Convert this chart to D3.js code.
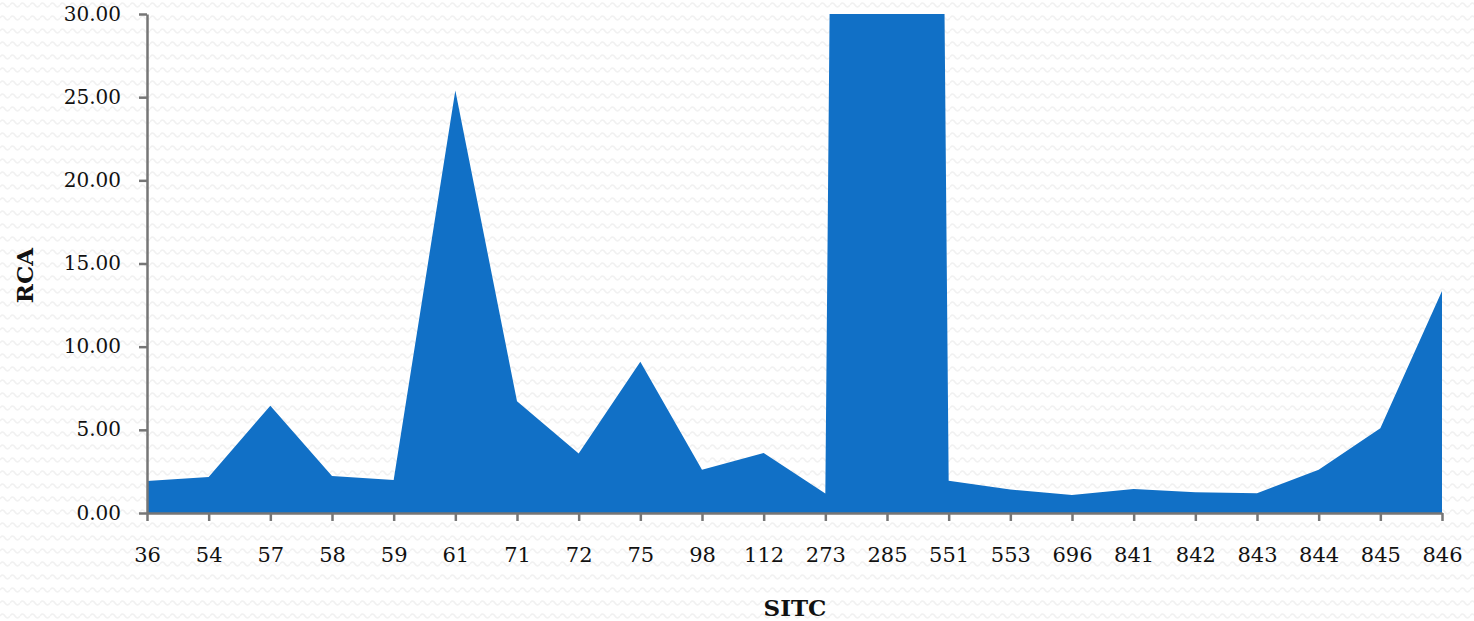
<!DOCTYPE html>
<html>
<head>
<meta charset="utf-8">
<script src="https://cdn.jsdelivr.net/npm/d3@7"></script>
<style>
  html, body { margin: 0; padding: 0; background: #fff; }
  svg { display: block; }
  .tick text { font-family: "DejaVu Serif", "Liberation Serif", serif; fill: #111; }
</style>
</head>
<body>
<svg id="chart" width="1474" height="621"></svg>
<script>
// SITC product codes along the x axis
const categories = ["36","54","57","58","59","61","71","72","75","98","112","273","285","551","553","696","841","842","843","844","845","846"];
// Revealed comparative advantage per code (285 runs far above the axis top)
const rcaValues = [1.93, 2.17, 6.45, 2.23, 1.99, 25.4, 6.72, 3.58, 9.1, 2.6, 3.6, 1.17, 420, 1.94, 1.41, 1.08, 1.44, 1.25, 1.19, 2.6, 5.1, 13.35];
const yTicks = [0, 5, 10, 15, 20, 25, 30];

const svg = d3.select("#chart");
const W = 1474, H = 621;
const margin = { left: 147, right: 32, top: 14, bottom: 108 };
const plotW = W - margin.left - margin.right;
const plotH = H - margin.top - margin.bottom;

// faint zigzag texture behind everything
const defs = svg.append("defs");
const pat = defs.append("pattern")
  .attr("id", "zigzag")
  .attr("patternUnits", "userSpaceOnUse")
  .attr("width", 10).attr("height", 13);
pat.append("path")
  .attr("d", "M0,5 Q2.5,1 5,5 T10,5")
  .attr("fill", "none")
  .attr("stroke", "#f1f1f1")
  .attr("stroke-width", 1.6);
svg.append("rect").attr("width", W).attr("height", H).attr("fill", "#fff");
svg.append("rect").attr("width", W).attr("height", H).attr("fill", "url(#zigzag)");

defs.append("clipPath").attr("id", "plotClip")
  .append("rect").attr("x", 0).attr("y", 0).attr("width", plotW).attr("height", plotH);

const g = svg.append("g").attr("transform", `translate(${margin.left},${margin.top})`);

const x = d3.scalePoint().domain(categories).range([0, plotW]);
const y = d3.scaleLinear().domain([0, 30]).range([plotH, 0]);

const data = categories.map((c, i) => ({ c, v: rcaValues[i] }));

const area = d3.area()
  .x(d => x(d.c))
  .y0(y(0))
  .y1(d => y(d.v));

g.append("path")
  .datum(data)
  .attr("clip-path", "url(#plotClip)")
  .attr("fill", "#1170c6")
  .attr("d", area);

// y axis
const yAxis = g.append("g")
  .call(d3.axisLeft(y).tickValues(yTicks).tickFormat(d3.format(".2f")).tickSize(8).tickSizeOuter(0).tickPadding(18));
yAxis.selectAll("text").attr("font-size", 20).attr("dy", "0.3em");

// x axis
const xAxis = g.append("g")
  .attr("transform", `translate(0,${plotH})`)
  .call(d3.axisBottom(x).tickSize(8).tickSizeOuter(0).tickPadding(26));
xAxis.selectAll("text").attr("font-size", 21);

[yAxis, xAxis].forEach(a => {
  a.select(".domain").attr("stroke", "#767676").attr("stroke-width", 2.5);
  a.selectAll(".tick line").attr("stroke", "#767676").attr("stroke-width", 2.5);
});

// axis titles
svg.append("text")
  .attr("transform", `translate(33,${margin.top + plotH / 2 + 12}) rotate(-90)`)
  .attr("text-anchor", "middle")
  .attr("font-family", "DejaVu Serif, Liberation Serif, serif")
  .attr("font-weight", "bold")
  .attr("font-size", 23)
  .attr("fill", "#111")
  .text("RCA");

svg.append("text")
  .attr("x", 795).attr("y", 616)
  .attr("text-anchor", "middle")
  .attr("font-family", "DejaVu Serif, Liberation Serif, serif")
  .attr("font-weight", "bold")
  .attr("font-size", 23)
  .attr("fill", "#111")
  .text("SITC");
</script>
</body>
</html>
